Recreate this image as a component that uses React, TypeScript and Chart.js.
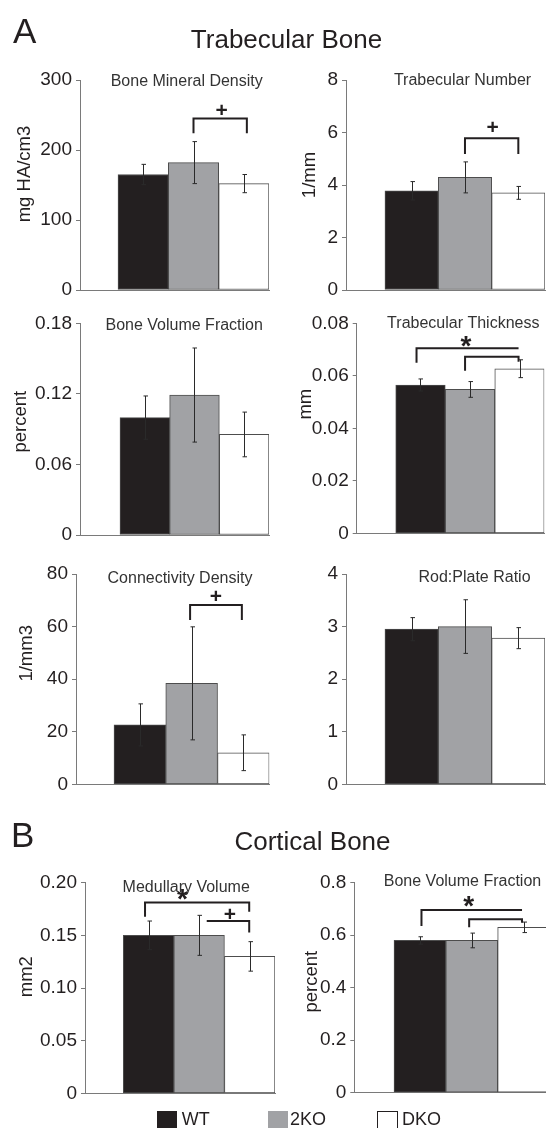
import React, { useEffect, useRef } from "react";
import { Chart, registerables } from "chart.js";

Chart.register(...registerables);

const FONT = '"Liberation Sans", Arial, Helvetica, sans-serif';
const INK = "#231f20";
const AXIS_COLOR = "#7a7a7a";
const BAR_BORDER = "#4d4d4d";
const ERR_COLOR = "#2a2a2a";

// ---------- groups ----------
const GROUPS = ["WT", "2KO", "DKO"];
const GROUP_COLORS = ["#231f20", "#a1a2a5", "#ffffff"];
const GROUP_X = [1, 2, 3];

// ---------- A: Trabecular bone ----------
const BMD_VALUES = [165, 182, 152];
const BMD_ERRORS = [14.5, 30, 13];
const BMD_TICKS = [0, 100, 200, 300];
const BMD_TICK_LABELS = ["0", "100", "200", "300"];
const BMD_BRACKETS = [{ x1: 2.0, x2: 3.06, y: 245, left: 224, right: 224 }];
const BMD_MARKS = [{ text: "+", x: 2.56, y: 258 }];

const TBN_VALUES = [3.78, 4.29, 3.7];
const TBN_ERRORS = [0.35, 0.59, 0.245];
const TBN_TICKS = [0, 2, 4, 6, 8];
const TBN_TICK_LABELS = ["0", "2", "4", "6", "8"];
const TBN_BRACKETS = [{ x1: 2.0, x2: 3.0, y: 5.78, left: 5.18, right: 5.18 }];
const TBN_MARKS = [{ text: "+", x: 2.52, y: 6.22 }];

const TBVF_VALUES = [0.0998, 0.119, 0.0855];
const TBVF_ERRORS = [0.0184, 0.04, 0.019];
const TBVF_TICKS = [0, 0.06, 0.12, 0.18];
const TBVF_TICK_LABELS = ["0", "0.06", "0.12", "0.18"];
const TBVF_BRACKETS: any[] = [];
const TBVF_MARKS: any[] = [];

const TBTH_VALUES = [0.0565, 0.0548, 0.0627];
const TBTH_ERRORS = [0.0023, 0.003, 0.0034];
const TBTH_TICKS = [0, 0.02, 0.04, 0.06, 0.08];
const TBTH_TICK_LABELS = ["0", "0.02", "0.04", "0.06", "0.08"];
const TBTH_BRACKETS = [
  { x1: 0.92, x2: 2.98, y: 0.0705, left: 0.065, right: null },
  { x1: 1.9, x2: 2.98, y: 0.0673, left: 0.0619, right: 0.0654 },
];
const TBTH_MARKS = [{ text: "*", x: 1.92, y: 0.073 }];

const CONN_VALUES = [22.6, 38.4, 12.0];
const CONN_ERRORS = [8, 21.5, 6.8];
const CONN_TICKS = [0, 20, 40, 60, 80];
const CONN_TICK_LABELS = ["0", "20", "40", "60", "80"];
const CONN_BRACKETS = [{ x1: 1.97, x2: 2.97, y: 68.2, left: 62.5, right: 62.5 }];
const CONN_MARKS = [{ text: "+", x: 2.47, y: 71.7 }];

const RODPLATE_VALUES = [2.95, 3.0, 2.78];
const RODPLATE_ERRORS = [0.22, 0.51, 0.2];
const RODPLATE_TICKS = [0, 1, 2, 3, 4];
const RODPLATE_TICK_LABELS = ["0", "1", "2", "3", "4"];

// ---------- B: Cortical bone ----------
const MEDV_VALUES = [0.15, 0.15, 0.13];
const MEDV_ERRORS = [0.0136, 0.019, 0.014];
const MEDV_TICKS = [0, 0.05, 0.1, 0.15, 0.2];
const MEDV_TICK_LABELS = ["0", "0.05", "0.10", "0.15", "0.20"];
const MEDV_BRACKETS = [
  { x1: 0.93, x2: 2.99, y: 0.1813, left: 0.1676, right: 0.1724 },
  { x1: 2.15, x2: 2.99, y: 0.1636, left: null, right: 0.1528 },
];
const MEDV_MARKS = [
  { text: "*", x: 1.67, y: 0.1885 },
  { text: "+", x: 2.61, y: 0.1709 },
];

const CBVF_VALUES = [0.58, 0.58, 0.63];
const CBVF_ERRORS = [0.014, 0.028, 0.02];
const CBVF_TICKS = [0, 0.2, 0.4, 0.6, 0.8];
const CBVF_TICK_LABELS = ["0", "0.2", "0.4", "0.6", "0.8"];
const CBVF_BRACKETS = [
  { x1: 1.03, x2: 2.97, y: 0.696, left: 0.635, right: null },
  { x1: 1.95, x2: 2.97, y: 0.6606, left: 0.63, right: 0.6476 },
];
const CBVF_MARKS = [{ text: "*", x: 1.94, y: 0.7265 }];

// ---------- layout (page coordinates) ----------
const CANVAS_W = 560;
const CANVAS_H = 1128;
const Y_AXIS_W = 60;

const FRAMES = [
  { axisX: 80, right: 269, top: 80, bottom: 290, xMin: -0.255, titleX: 186.7, titleY: 86, yTitleX: 25.8, yTitleY: 174 },
  { axisX: 346, right: 545, top: 80, bottom: 290, xMin: -0.23, titleX: 462.5, titleY: 85, yTitleX: 308.3, yTitleY: 175 },
  { axisX: 80, right: 269, top: 323.3, bottom: 535, xMin: -0.305, titleX: 184.2, titleY: 330, yTitleX: 21.7, yTitleY: 421.7 },
  { axisX: 356.7, right: 544.3, top: 323.3, bottom: 533.3, xMin: -0.288, titleX: 463.3, titleY: 328, yTitleX: 305.8, yTitleY: 404.2 },
  { axisX: 76, right: 269.3, top: 574, bottom: 784.3, xMin: -0.234, titleX: 180, titleY: 583, yTitleX: 25, yTitleY: 653.3 },
  { axisX: 346, right: 545, top: 574, bottom: 784.3, xMin: -0.23, titleX: 474.5, titleY: 582, yTitleX: 0, yTitleY: 0 },
  { axisX: 85, right: 275, top: 882.7, bottom: 1093.3, xMin: -0.257, titleX: 186.2, titleY: 892, yTitleX: 25, yTitleY: 976.7 },
  { axisX: 354.3, right: 549.5, top: 882.7, bottom: 1092.7, xMin: -0.266, titleX: 462.5, titleY: 886, yTitleX: 313.3, yTitleY: 981.7 },
];

const PANELS = [
  { title: "Bone Mineral Density", yTitle: "mg HA/cm3", values: BMD_VALUES, errors: BMD_ERRORS, ticks: BMD_TICKS, tickLabels: BMD_TICK_LABELS, brackets: BMD_BRACKETS, marks: BMD_MARKS },
  { title: "Trabecular Number", yTitle: "1/mm", values: TBN_VALUES, errors: TBN_ERRORS, ticks: TBN_TICKS, tickLabels: TBN_TICK_LABELS, brackets: TBN_BRACKETS, marks: TBN_MARKS },
  { title: "Bone Volume Fraction", yTitle: "percent", values: TBVF_VALUES, errors: TBVF_ERRORS, ticks: TBVF_TICKS, tickLabels: TBVF_TICK_LABELS, brackets: TBVF_BRACKETS, marks: TBVF_MARKS },
  { title: "Trabecular Thickness", yTitle: "mm", values: TBTH_VALUES, errors: TBTH_ERRORS, ticks: TBTH_TICKS, tickLabels: TBTH_TICK_LABELS, brackets: TBTH_BRACKETS, marks: TBTH_MARKS },
  { title: "Connectivity Density", yTitle: "1/mm3", values: CONN_VALUES, errors: CONN_ERRORS, ticks: CONN_TICKS, tickLabels: CONN_TICK_LABELS, brackets: CONN_BRACKETS, marks: CONN_MARKS },
  { title: "Rod:Plate Ratio", yTitle: "", values: RODPLATE_VALUES, errors: RODPLATE_ERRORS, ticks: RODPLATE_TICKS, tickLabels: RODPLATE_TICK_LABELS, brackets: [], marks: [] },
  { title: "Medullary Volume", yTitle: "mm2", values: MEDV_VALUES, errors: MEDV_ERRORS, ticks: MEDV_TICKS, tickLabels: MEDV_TICK_LABELS, brackets: MEDV_BRACKETS, marks: MEDV_MARKS },
  { title: "Bone Volume Fraction", yTitle: "percent", values: CBVF_VALUES, errors: CBVF_ERRORS, ticks: CBVF_TICKS, tickLabels: CBVF_TICK_LABELS, brackets: CBVF_BRACKETS, marks: CBVF_MARKS },
];

const HEADERS = [
  { text: "A", left: 13, baseline: 43, size: 35, center: false },
  { text: "Trabecular Bone", left: 286.5, baseline: 48, size: 26, center: true },
  { text: "B", left: 11, baseline: 847, size: 35, center: false },
  { text: "Cortical Bone", left: 312.5, baseline: 850, size: 26, center: true },
];

const LEGEND_SWATCH_X = [156.7, 268.3, 376.7];
const LEGEND_TEXT_X = [181.7, 290, 402];

function drawInkCentered(ctx: CanvasRenderingContext2D, text: string, x: number, y: number) {
  const m = ctx.measureText(text);
  const off = (m.actualBoundingBoxAscent - m.actualBoundingBoxDescent) / 2;
  ctx.fillText(text, x, y + off);
}

function makeAnnotPlugin(panel: any, frame: any) {
  return {
    id: "annot",
    afterDatasetsDraw(chart: any) {
      const { ctx } = chart;
      const xs = chart.scales.x;
      const ys = chart.scales.y;
      const meta = chart.getDatasetMeta(0);
      ctx.save();
      // error bars
      ctx.strokeStyle = ERR_COLOR;
      ctx.lineWidth = 1;
      panel.values.forEach((v: number, i: number) => {
        const e = panel.errors[i];
        const x = Math.round(meta.data[i].x) + 0.5;
        const y1 = ys.getPixelForValue(v + e);
        const y2 = ys.getPixelForValue(v - e);
        ctx.beginPath();
        ctx.moveTo(x, y1);
        ctx.lineTo(x, y2);
        ctx.moveTo(x - 2, y1);
        ctx.lineTo(x + 2.5, y1);
        ctx.moveTo(x - 2, y2);
        ctx.lineTo(x + 2.5, y2);
        ctx.stroke();
      });
      // brackets
      ctx.strokeStyle = INK;
      ctx.lineWidth = 2;
      ctx.lineJoin = "miter";
      ctx.lineCap = "butt";
      panel.brackets.forEach((b: any) => {
        const X1 = xs.getPixelForValue(b.x1);
        const X2 = xs.getPixelForValue(b.x2);
        const Y = ys.getPixelForValue(b.y);
        ctx.beginPath();
        if (b.left != null) {
          ctx.moveTo(X1, ys.getPixelForValue(b.left));
          ctx.lineTo(X1, Y);
        } else {
          ctx.moveTo(X1, Y);
        }
        ctx.lineTo(X2, Y);
        if (b.right != null) ctx.lineTo(X2, ys.getPixelForValue(b.right));
        ctx.stroke();
      });
      // significance marks
      ctx.fillStyle = INK;
      ctx.textAlign = "center";
      ctx.textBaseline = "alphabetic";
      panel.marks.forEach((m: any) => {
        ctx.font = m.text === "*" ? `bold 28px ${FONT}` : `bold 21px ${FONT}`;
        drawInkCentered(ctx, m.text, xs.getPixelForValue(m.x), ys.getPixelForValue(m.y));
      });
      ctx.restore();
    },
    afterDraw(chart: any) {
      const { ctx } = chart;
      ctx.save();
      ctx.fillStyle = "#333333";
      ctx.font = `16px ${FONT}`;
      ctx.textAlign = "center";
      ctx.textBaseline = "alphabetic";
      ctx.fillText(panel.title, frame.titleX, frame.titleY);
      if (panel.yTitle) {
        ctx.fillStyle = INK;
        ctx.font = `18.5px ${FONT}`;
        ctx.translate(frame.yTitleX, frame.yTitleY);
        ctx.rotate(-Math.PI / 2);
        drawInkCentered(ctx, panel.yTitle, 0, 0);
      }
      ctx.restore();
    },
  };
}

function PanelChart({ panel, frame }: { panel: any; frame: any }) {
  const ref = useRef<HTMLCanvasElement | null>(null);
  useEffect(() => {
    if (!ref.current) return;
    const chart = new Chart(ref.current, {
      type: "bar",
      data: {
        datasets: [
          {
            label: panel.title,
            data: panel.values.map((v: number, i: number) => ({ x: GROUP_X[i], y: v })),
            backgroundColor: GROUP_COLORS,
            borderColor: BAR_BORDER,
            borderWidth: 1,
            borderSkipped: false,
            barPercentage: 1,
            categoryPercentage: 1,
          },
        ],
      },
      options: {
        responsive: false,
        animation: false,
        devicePixelRatio: 1,
        events: [],
        layout: {
          padding: {
            left: frame.axisX - Y_AXIS_W,
            right: CANVAS_W - frame.right,
            top: frame.top,
            bottom: CANVAS_H - frame.bottom,
          },
        },
        plugins: {
          legend: { display: false },
          tooltip: { enabled: false },
          title: { display: false },
        },
        scales: {
          x: {
            type: "linear",
            offset: false,
            min: frame.xMin,
            max: 3.5,
            afterBuildTicks: (s: any) => {
              s.ticks = GROUP_X.map((v) => ({ value: v }));
            },
            afterFit: (s: any) => {
              s.height = 0;
            },
            ticks: { display: false },
            grid: { display: true, offset: false, drawOnChartArea: false, drawTicks: false, color: AXIS_COLOR },
            border: { display: true, color: AXIS_COLOR, width: 1 },
          },
          y: {
            type: "linear",
            min: panel.ticks[0],
            max: panel.ticks[panel.ticks.length - 1],
            afterBuildTicks: (s: any) => {
              s.ticks = panel.ticks.map((v: number) => ({ value: v }));
            },
            afterFit: (s: any) => {
              s.width = Y_AXIS_W;
            },
            ticks: {
              callback: (_v: any, i: number) => panel.tickLabels[i],
              font: { family: FONT, size: 19 },
              color: INK,
              padding: 4,
            },
            grid: { display: true, drawOnChartArea: false, drawTicks: true, tickLength: 4, color: AXIS_COLOR },
            border: { display: true, color: AXIS_COLOR, width: 1 },
          },
        },
      } as any,
      plugins: [makeAnnotPlugin(panel, frame)],
    });
    return () => chart.destroy();
  }, [panel, frame]);
  return (
    <canvas
      ref={ref}
      width={CANVAS_W}
      height={CANVAS_H}
      style={{ position: "absolute", left: 0, top: 0, width: CANVAS_W, height: CANVAS_H }}
    />
  );
}

export default function App() {
  return (
    <div
      style={{
        position: "absolute",
        left: 0,
        top: 0,
        width: 546,
        height: 1128,
        overflow: "hidden",
        background: "#ffffff",
        fontFamily: FONT,
        color: INK,
      }}
    >
      {PANELS.map((p, i) => (
        <PanelChart key={i} panel={p} frame={FRAMES[i]} />
      ))}
      {HEADERS.map((h, i) => (
        <div
          key={"h" + i}
          style={{
            position: "absolute",
            left: h.left,
            top: h.baseline - 0.8465 * h.size,
            fontSize: h.size,
            lineHeight: `${h.size}px`,
            whiteSpace: "nowrap",
            transform: h.center ? "translateX(-50%)" : undefined,
          }}
        >
          {h.text}
        </div>
      ))}
      {GROUPS.map((g, i) => (
        <React.Fragment key={"l" + i}>
          <div
            style={{
              position: "absolute",
              left: LEGEND_SWATCH_X[i],
              top: 1110.7,
              width: i === 2 ? 21.6 : 20,
              height: 20,
              boxSizing: "border-box",
              background: GROUP_COLORS[i],
              border: i === 2 ? `1.5px solid ${INK}` : "none",
            }}
          />
          <div
            style={{
              position: "absolute",
              left: LEGEND_TEXT_X[i],
              top: 1125 - 0.8465 * 18,
              fontSize: 18,
              lineHeight: "18px",
              whiteSpace: "nowrap",
            }}
          >
            {g}
          </div>
        </React.Fragment>
      ))}
    </div>
  );
}
